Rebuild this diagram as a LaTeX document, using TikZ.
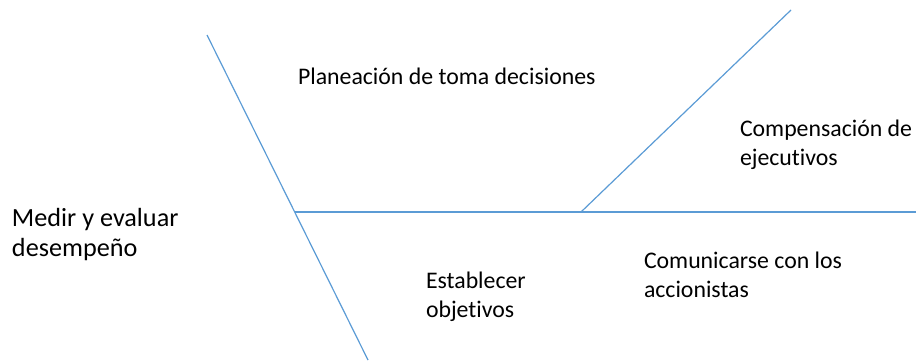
\documentclass[tikz,border=0pt]{standalone}
\usepackage{fontspec}
\setmainfont{Carlito}[Ligatures={NoCommon}]
\definecolor{lineblue}{HTML}{5B9BD5}
\begin{document}
\begin{tikzpicture}[x=1pt,y=-1pt,
  bone/.style={draw=lineblue,line width=1.2pt},
  lbl/.style={inner sep=0pt,outer sep=0pt,anchor=base west,align=left,
    font=\fontsize{23.8}{29}\selectfont,text=black},
  biglbl/.style={lbl,font=\fontsize{26.2}{30}\selectfont}]
\useasboundingbox (0,0) rectangle (916,360);
\coordinate (spineTop) at (207,35);
\coordinate (spineBot) at (368,360);
\coordinate (hStart) at (295,212);
\coordinate (hEnd) at (916,212);
\coordinate (dStart) at (581,212);
\coordinate (dEnd) at (791,10);
\draw[bone] (spineTop) -- (spineBot);
\draw[bone] (hStart) -- (hEnd);
\draw[bone] (dStart) -- (dEnd);
\node[biglbl] (medir) at (12,256) {Medir y evaluar\\desempeño};
\node[lbl] (plan) at (298,84.3) {Planeación de toma decisiones};
\node[lbl] (comp) at (740,165) {Compensación de\\ejecutivos};
\node[lbl] (estab) at (426,317) {Establecer\\objetivos};
\node[lbl] (comun) at (644,297.5) {Comunicarse con los\\accionistas};
\end{tikzpicture}
\end{document}
